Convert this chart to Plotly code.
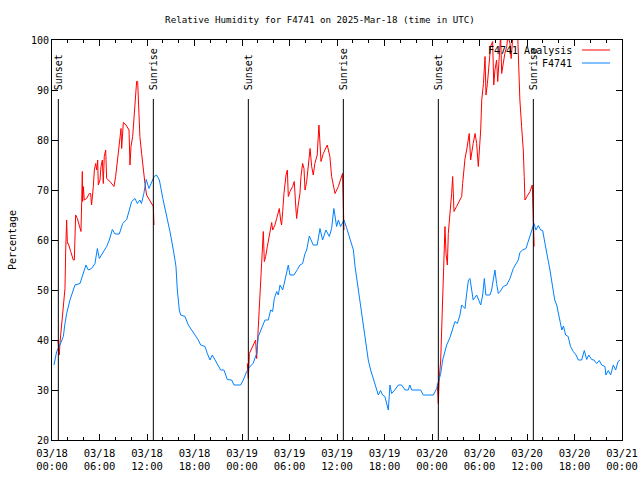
import plotly.graph_objects as go

# ---------------- data (hours since 2025-03-18 00:00 UTC) ----------------
obs_hours = [0.25, 0.59, 1.0, 1.43, 1.64, 1.85, 2.27, 2.9, 3.54, 3.96, 4.29, 4.59, 5.0, 5.43, 5.73, 5.98,
             6.5, 6.9, 7.24, 7.62, 7.96, 8.5, 8.93, 9.43, 9.77, 10.06, 10.48, 10.78, 11.1, 11.3, 11.6, 11.9,
             12.25, 12.6, 12.9, 13.2, 13.56, 14.0, 14.48, 14.9, 15.33, 15.66, 15.83, 16.08, 16.25, 16.8,
             17.22, 17.64, 18.06, 18.48, 18.78, 19.33, 19.62, 19.95, 20.25, 20.59, 21.0, 21.3, 21.72, 22.14,
             22.69, 22.99, 23.83, 24.17, 24.59, 25.0, 25.4, 25.85, 26.06, 26.48, 26.9, 27.32, 27.62, 27.87,
             28.08, 28.38, 28.59, 28.8, 29.14, 29.43, 29.85, 30.06, 30.57, 31.0, 31.32, 31.66, 31.96, 32.17,
             32.5, 33.0, 33.5, 33.85, 34.18, 34.6, 35.03, 35.32, 35.6, 35.95, 36.17, 36.46, 36.88, 37.2,
             37.64, 38.07, 38.28, 38.57, 38.9, 39.3, 39.66, 39.95, 40.25, 40.6, 41.0, 41.22, 41.5, 41.76,
             42.05, 42.27, 42.48, 42.69, 42.9, 43.3, 43.74, 44.16, 44.6, 45.0, 45.2, 45.43, 46.06, 46.56,
             46.9, 48.17, 48.59, 48.8, 49.1, 49.35, 49.64, 49.85, 50.27, 50.61, 50.9, 51.2, 51.53, 51.75,
             52.17, 52.38, 52.6, 52.8, 53.0, 53.2, 53.64, 53.85, 54.15, 54.4, 54.61, 54.8, 55.32, 55.53,
             55.75, 55.95, 56.16, 56.38, 56.6, 57.0, 57.44, 57.85, 58.27, 58.9, 59.1, 59.45, 59.87, 60.17,
             60.6, 60.88, 61.13, 61.43, 61.72, 61.98, 62.27, 62.48, 62.69, 62.9, 63.1, 63.32, 63.5, 63.75,
             63.97, 64.18, 64.4, 64.6, 64.88, 65.2, 65.5, 65.85, 66.2, 66.48, 66.9, 67.24, 67.54, 67.8,
             68.17, 68.46, 68.8, 69.13, 69.43, 69.85, 69.96, 70.27, 70.56, 70.9, 71.2, 71.5, 71.74]
obs_rh = [35, 37.7, 39, 40.7, 43.3, 45.3, 48, 51, 51.3, 53.3, 55, 54, 54.3, 55.3, 58.3, 56.3,
          57.7, 58.7, 60, 62.1, 61.2, 61.2, 63.3, 64.1, 66, 67.7, 68.3, 67.3, 68, 67.3, 69.3, 72.1,
          70.3, 71.5, 72.7, 73, 72, 68.3, 65, 61.7, 58, 54.7, 50, 46, 45, 44.7,
          43, 42, 41, 40, 39, 38.7, 37.3, 36, 37, 36, 35, 34, 34, 32.1,
          32, 31, 31, 32, 33.7, 34.7, 35.3, 37.3, 40.7, 42.3, 44, 44, 46, 45.7,
          48.3, 49.7, 49, 51, 50, 52, 55, 53, 53, 54.1, 55, 55.3, 57.3, 58,
          60.8, 59, 59, 62.3, 60, 62, 60.7, 62.3, 66.3, 62.7, 64, 62.7, 64, 62.5,
          60.3, 58, 54.7, 51.5, 48, 44, 40, 36, 34, 32, 30, 29, 29.9, 29,
          28.7, 27, 26, 31, 29.3, 30, 31, 31, 30, 30, 31, 30, 30, 30,
          29, 29, 30.3, 31.8, 33.3, 36, 38, 39, 40.5, 42, 43.7, 43.3, 45, 47,
          46.3, 49.3, 52, 52.3, 50.3, 48, 49, 48, 47, 49, 52.3, 49, 49, 50,
          52.7, 54, 51.3, 49.3, 49.7, 50.7, 51, 52.3, 54.3, 56, 57.5, 58, 58.3, 59.7,
          62, 63.3, 62, 62.9, 62, 61.9, 59.3, 57.7, 56, 54, 52, 50, 48, 47,
          45.3, 44, 42, 42.8, 41, 40.7, 38.7, 37.7, 37, 36, 36, 37.9, 36.1, 37,
          36.1, 36, 35.3, 35.9, 35, 34.7, 33, 33.9, 33, 35, 34, 35.7, 36]

ana_hours = [0.75, 0.93, 1.0, 1.22, 1.35, 1.52, 1.64, 1.73, 1.85, 1.94, 2.06, 2.36, 2.69, 2.82, 2.99,
             3.2, 3.45, 3.66, 3.75, 3.83, 3.87, 3.96, 4.08, 4.38, 4.71, 4.88, 5.0, 5.14, 5.22, 5.35,
             5.52, 5.64, 5.77, 5.85, 6.06, 6.19, 6.36, 6.48, 6.6, 6.78, 6.9, 7.33, 7.83, 8.04, 8.25,
             8.46, 8.59, 8.72, 8.8, 9.01, 9.35, 9.73, 9.85, 9.98, 10.19, 10.36, 10.53, 10.69, 10.82,
             10.9, 11.1, 11.32, 11.53, 11.74, 11.95, 12.37, 12.8, 12.88,
             None,
             24.67, 24.8, 24.93, 25.22, 25.5, 25.72, 25.85, 25.98, 26.06, 26.19, 26.36, 26.48, 26.69,
             26.82, 26.99, 27.2, 27.4, 27.6, 27.75, 27.87, 28.16, 28.38, 28.71, 28.88, 29.0, 29.14,
             29.3, 29.56, 29.73, 29.85, 30.06, 30.4, 30.6, 30.82, 30.9, 31.1, 31.32, 31.45, 31.66,
             31.83, 31.96, 32.17, 32.38, 32.6, 32.8, 33.0, 33.2, 33.5, 33.72, 33.85, 33.98, 34.27,
             34.77, 35.1, 35.32, 35.75, 36.17, 36.7, 36.8, 36.88,
             None,
             48.67, 48.8, 48.9, 49.1, 49.22, 49.35, 49.43, 49.56, 49.64, 49.77, 49.94, 50.06, 50.27,
             50.48, 50.61, 50.78, 51.1, 51.45, 51.75, 51.87, 52.04, 52.17, 52.38, 52.6, 52.7, 52.88,
             53.05, 53.2, 53.44, 53.64, 53.85, 53.98, 54.15, 54.28, 54.5, 54.7, 54.82, 55.0, 55.25,
             55.4, 55.66, 55.8, 55.95, 56.16, 56.3, 56.5, 56.67, 56.8, 57.0, 57.2, 57.44, 57.6, 57.85,
             58.0, 58.27, 58.5, 58.8, 58.9, 59.1, 59.32, 59.53, 59.65, 59.74, 60.0, 60.38, 60.67,
             60.75, 60.8, 60.9]
ana_rh = [40, 37, 39.3, 43.3, 45, 47.7, 50.3, 58, 64, 59.3, 59.3, 57.7, 56, 56, 65,
          64.3, 63, 61.7, 67.7, 73.7, 67.7, 70.7, 68, 68.3, 69.3, 69.3, 67, 69, 70.7, 74,
          75.3, 74, 76, 71, 72, 74.7, 76, 71.3, 76.7, 78, 72.3, 71.7, 70.7, 72.7, 75.3,
          78, 79.7, 82.3, 78.3, 83.5, 83, 82, 75, 78.7, 80.7, 85.3, 88, 91.7, 91.7,
          87.7, 80.7, 77.3, 74, 71.3, 69, 67.7, 66.7, 63,
          None,
          35.3, 32.3, 37.3, 38.3, 39.3, 40, 36.3, 40.7, 42.3, 46.7, 51, 55.3, 61.7,
          55.7, 56.7, 58.7, 60.7, 62.7, 63.5, 62, 63, 64.3, 66.3, 64, 63, 65.7,
          69.3, 73, 74, 68.7, 69.7, 70.7, 71.7, 66, 64.3, 67, 69.3, 72.7, 75.3,
          74.3, 70, 71.7, 75.3, 78.3, 74.7, 73, 75.3, 77, 83, 79.3, 75.7, 77.3,
          79, 76.7, 72.7, 69.3, 70.7, 73.3, 66, 62,
          None,
          31.3, 27.3, 32, 36, 42, 48, 53.7, 59.3, 62.7, 57.3, 55, 61.3, 64.7,
          69.3, 72.7, 65.7, 66.7, 67.7, 68.7, 71.3, 74, 76.3, 78, 80.7, 81.3, 76,
          78, 79.3, 81.3, 79.3, 74.7, 78, 82, 88, 91.3, 96.7, 89, 91.3, 96,
          98.7, 99.7, 91, 94, 96, 91.7, 98, 101, 93.3, 95.3, 97.3, 98.7, 101, 99.3,
          96.3, 102, 101, 102, 96, 88, 82.7, 78, 72.7, 68, 68.7, 69.7, 71,
          66, 59.7, 58.7]

event_hours = [0.8, 12.8, 24.8, 36.8, 48.8, 60.8]
event_labels = ["Sunset", "Sunrise", "Sunset", "Sunrise", "Sunset", "Sunrise"]
event_top = 88.2
event_label_base = 89.6

xtick_vals = [0, 6, 12, 18, 24, 30, 36, 42, 48, 54, 60, 66, 72]
xtick_text = ["03/18<br>00:00", "03/18<br>06:00", "03/18<br>12:00", "03/18<br>18:00",
              "03/19<br>00:00", "03/19<br>06:00", "03/19<br>12:00", "03/19<br>18:00",
              "03/20<br>00:00", "03/20<br>06:00", "03/20<br>12:00", "03/20<br>18:00",
              "03/21<br>00:00"]
ytick_vals = [20, 30, 40, 50, 60, 70, 80, 90, 100]

series_names = ["F4741 Analysis", "F4741"]
series_colors = ["#ff0000", "#0080ff"]

FONT = "DejaVu Sans Mono"

fig = go.Figure()
fig.add_trace(go.Scatter(x=ana_hours, y=ana_rh, mode="lines", name=series_names[0],
                         line=dict(color=series_colors[0], width=1), connectgaps=False))
fig.add_trace(go.Scatter(x=obs_hours, y=obs_rh, mode="lines", name=series_names[1],
                         line=dict(color=series_colors[1], width=1)))

for h, lab in zip(event_hours, event_labels):
    fig.add_shape(type="line", xref="x", yref="y", x0=h, x1=h, y0=20, y1=event_top,
                  line=dict(color="black", width=1))
    fig.add_annotation(x=h, y=event_label_base, xref="x", yref="y", text=lab, textangle=-90,
                       showarrow=False, xanchor="center", yanchor="bottom",
                       font=dict(family=FONT, size=10, color="black"))

# gnuplot-style legend: text then line sample at top right
leg_y = [0.975, 0.9425]
for name, col, yy in zip(series_names, series_colors, leg_y):
    fig.add_annotation(x=(574 - 52) / 570, y=yy, xref="paper", yref="paper", text=name,
                       showarrow=False, xanchor="right", yanchor="middle",
                       font=dict(family=FONT, size=10, color="black"))
    fig.add_shape(type="line", xref="paper", yref="paper", x0=(582 - 52) / 570, x1=(610 - 52) / 570,
                  y0=yy, y1=yy, line=dict(color=col, width=1))

fig.update_layout(
    width=640, height=480,
    margin=dict(l=52, r=18, t=40, b=40, autoexpand=False),
    paper_bgcolor="white", plot_bgcolor="white",
    showlegend=False,
    font=dict(family=FONT, size=10, color="black"),
    title=dict(text="Relative Humidity for F4741 on 2025-Mar-18 (time in UTC)",
               x=0.5, xanchor="center", y=1 - 20 / 480, yanchor="middle", yref="container",
               font=dict(family=FONT, size=9.2, color="black")),
)
fig.update_xaxes(range=[0, 72], tickmode="array", tickvals=xtick_vals, ticktext=xtick_text,
                 automargin=False, ticklabelstandoff=3,
                 showgrid=False, zeroline=False, showline=True, linecolor="black", linewidth=1,
                 mirror="allticks", ticks="inside", ticklen=6, tickcolor="black",
                 minor=dict(dtick=2, tick0=0, ticks="inside", ticklen=3, tickcolor="black"),
                 tickfont=dict(family=FONT, size=10.5))
fig.update_yaxes(range=[20, 100], tickmode="array", tickvals=ytick_vals,
                 automargin=False,
                 showgrid=False, zeroline=False, showline=True, linecolor="black", linewidth=1,
                 mirror="allticks", ticks="inside", ticklen=6, tickcolor="black",
                 title=dict(text="Percentage", font=dict(family=FONT, size=10), standoff=12),
                 tickfont=dict(family=FONT, size=10))

fig.write_html("out.html", config={"displayModeBar": False},
               post_script="document.body.style.margin='0';document.body.style.padding='0';")
